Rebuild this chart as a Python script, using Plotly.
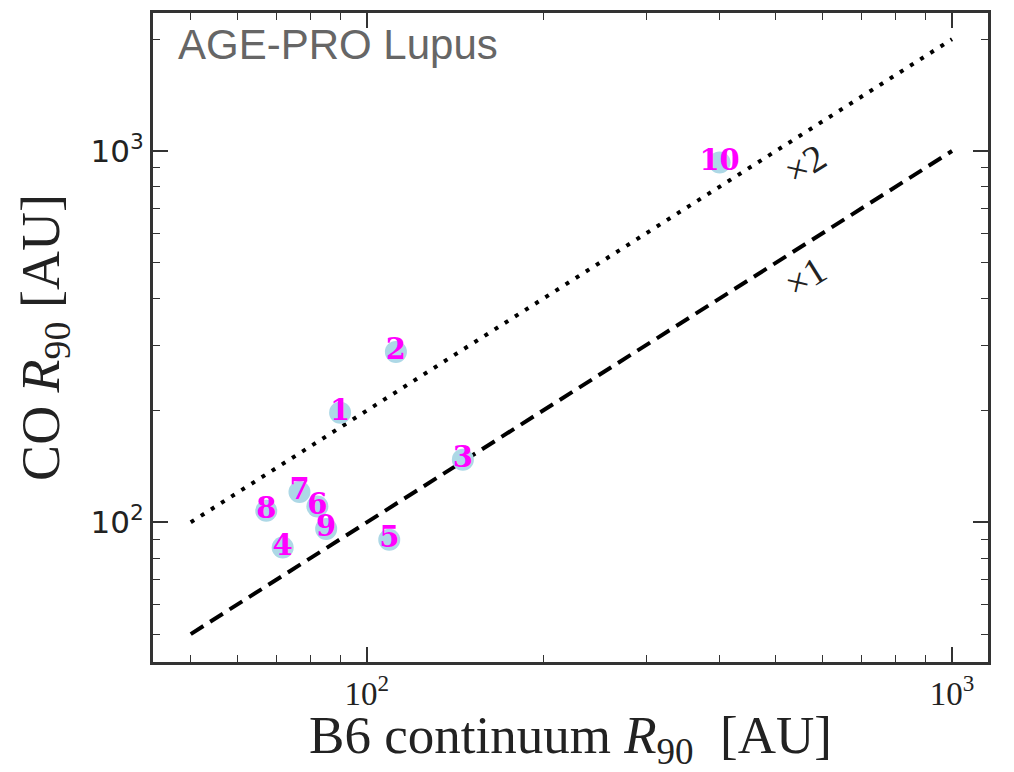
import numpy as np
import plotly.graph_objects as go

# data
labels = ["1", "2", "3", "4", "5", "6", "7", "8", "9", "10"]
r90_cont = [90.0, 112.1, 145.9, 71.8, 109.2, 82.3, 76.7, 67.3, 85.2, 400.6]
r90_co = [197.4, 287.7, 147.5, 85.5, 89.7, 110.3, 120.6, 107.4, 96.0, 931.0]
line_x = [50, 1000]
ratio_1 = [1, 1]
ratio_2 = [2, 2]
tick_vals = [100, 1000]
tick_text = ["10<sup>2</sup>", "10<sup>3</sup>"]

fig = go.Figure()
fig.add_trace(go.Scatter(x=line_x, y=[a * b for a, b in zip(line_x, ratio_1)], mode="lines",
                         line=dict(color="black", width=4, dash="15px,8px"), showlegend=False))
fig.add_trace(go.Scatter(x=line_x, y=[a * b for a, b in zip(line_x, ratio_2)], mode="lines",
                         line=dict(color="black", width=4, dash="4px,8px"), showlegend=False))
fig.add_trace(go.Scatter(x=r90_cont, y=r90_co, mode="markers+text", text=labels,
                         textposition="middle center",
                         marker=dict(color="#ADD8E6", size=22),
                         textfont=dict(family="DejaVu Serif", size=29, color="#FF00FF", weight="bold"),
                         showlegend=False))

fig.add_annotation(x=np.log10(561), y=np.log10(921), text="×2", showarrow=False, textangle=-32,
                   font=dict(family="Liberation Serif", size=38, color="#222"))
fig.add_annotation(x=np.log10(561), y=np.log10(459), text="×1", showarrow=False, textangle=-32,
                   font=dict(family="Liberation Serif", size=38, color="#222"))
fig.add_annotation(xref="paper", yref="paper", x=0.028, y=0.99, xanchor="left", yanchor="top",
                   text="AGE-PRO Lupus", showarrow=False,
                   font=dict(family="Liberation Sans", size=42, color="#666"))

axis_common = dict(type="log", showgrid=False, zeroline=False, showline=True, linecolor="#333",
                   linewidth=3, mirror="allticks", ticks="inside", ticklen=15, tickwidth=1.5,
                   tickcolor="#333", tickvals=tick_vals, ticktext=tick_text, automargin=False,
                   minor=dict(ticks="inside", ticklen=7, tickwidth=1.2, tickcolor="#333",
                              dtick="D1", showgrid=False))
fig.update_xaxes(**axis_common, range=[np.log10(43.1), np.log10(1152)],
                 tickfont=dict(family="Liberation Serif", size=33, color="#222"),
                 title=dict(text="B6 continuum <i>R</i><sub>90</sub>  [AU]",
                            font=dict(family="Liberation Serif", size=53, color="#222"), standoff=20))
fig.update_yaxes(**axis_common, range=[np.log10(42.05), np.log10(2353)],
                 tickfont=dict(family="DejaVu Sans", size=31, color="#222"),
                 title=dict(text="CO <i>R</i><sub>90</sub> [AU]",
                            font=dict(family="Liberation Serif", size=54, color="#222"), standoff=14))
fig.update_layout(width=1014, height=772, margin=dict(l=153, r=26, t=13, b=110),
                  plot_bgcolor="white", paper_bgcolor="white")
fig.write_html("out.html")
